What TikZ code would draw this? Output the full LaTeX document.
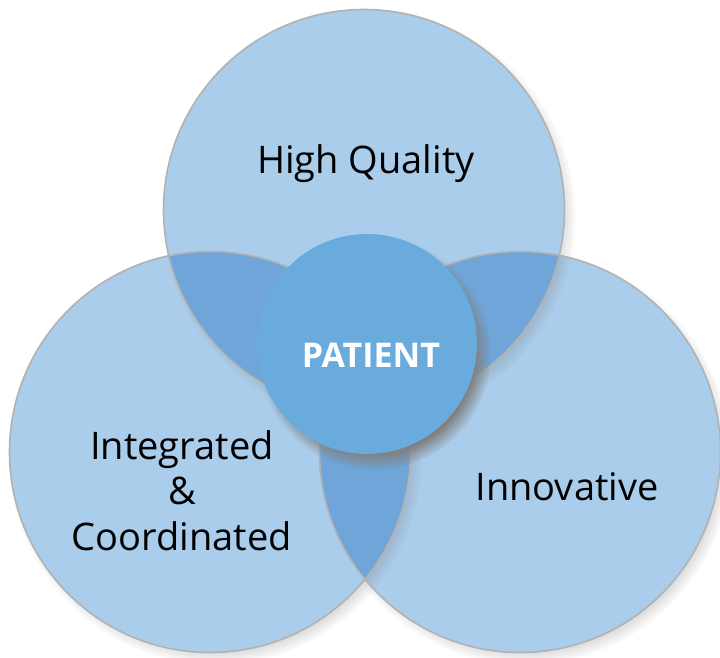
\documentclass[tikz,border=0pt]{standalone}
\usepackage{fontspec}
\setmainfont{Open Sans}
\usetikzlibrary{shadows}
\definecolor{ringblue}{HTML}{AACDEB}
\definecolor{lensblue}{HTML}{6FA5D8}
\definecolor{coreblue}{HTML}{6AABDE}
\definecolor{ringgray}{HTML}{B2B2B2}
\tikzset{
    ringnode/.style={
        circle,
        fill=ringblue, % 浅蓝色填充
        minimum size=401pt,
        inner sep=0,
        circular drop shadow={shadow scale=1.03, shadow xshift=5pt, shadow yshift=-6pt, opacity=0.6}
    },
    corenode/.style={
        circle,
        fill=coreblue,
        minimum size=220pt,
        inner sep=0,
        circular drop shadow={shadow scale=1.06, shadow xshift=7pt, shadow yshift=-9pt, opacity=1}
    },
    ringline/.style={draw=ringgray, line width=1.6pt},
    labeltext/.style={
        anchor=base,
        align=center,
        inner sep=0,
        font=\fontsize{38}{45.5}\selectfont
    }
}

\begin{document}
\begin{tikzpicture}[x=1pt, y=-1pt]
    \useasboundingbox (0,0) rectangle (720,658);
    % 三个大圆（从下往上叠放）
    \node[ringnode] (innovative) at (520,452) {};
    \node[ringnode] (integrated) at (210,452) {};
    \node[ringnode] (quality) at (364,210) {};
    % 重叠部分
    \begin{scope}
        \clip (quality.center) circle[radius=200.5pt];
        \fill[lensblue] (integrated.center) circle[radius=200.5pt];
        \fill[lensblue] (innovative.center) circle[radius=200.5pt];
    \end{scope}
    \begin{scope}
        \clip (integrated.center) circle[radius=200.5pt];
        \fill[lensblue] (innovative.center) circle[radius=200.5pt];
    \end{scope}
    % 边框
    \draw[ringline] (quality.center) circle[radius=200.5pt];
    \draw[ringline] (integrated.center) circle[radius=200.5pt];
    \draw[ringline] (innovative.center) circle[radius=200.5pt];
    % 中心圆
    \node[corenode] (patient) at (367,344) {};
    \node[labeltext, text=white, font=\fontsize{34}{42}\selectfont\bfseries] (patientlabel) at (371,367) {PATIENT};
    % 文字
    \node[labeltext] (qualitylabel) at (366,173) {High Quality};
    \node[labeltext] (integratedlabel) at (182,550) {Integrated\\\&\\Coordinated};
    \node[labeltext] (innovativelabel) at (567,500) {Innovative};
\end{tikzpicture}
\end{document}
